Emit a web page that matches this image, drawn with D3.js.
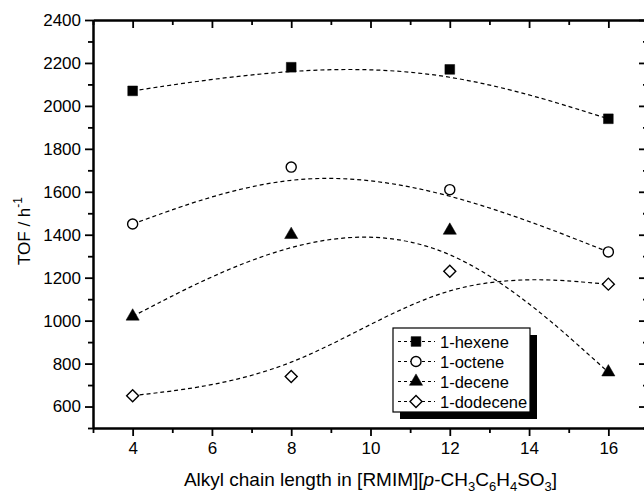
<!DOCTYPE html>
<html>
<head>
<meta charset="utf-8">
<script src="https://cdn.jsdelivr.net/npm/d3@7"></script>
<style>
  html, body { margin: 0; padding: 0; background: #fff; }
  svg text { font-family: "Liberation Sans", Arial, Helvetica, sans-serif; fill: #000; }
</style>
</head>
<body>
<svg id="chart" width="644" height="493"></svg>
<script>
// Alkyl chain length of the ionic liquid cation
const chainLength = [4, 8, 12, 16];

// Turnover frequencies (h^-1) for each olefin
const hexene   = [2070, 2180, 2170, 1940];
const octene   = [1450, 1715, 1610, 1320];
const decene   = [1020, 1400, 1420, 760];
const dodecene = [650, 740, 1230, 1170];

const seriesNames = ["1-hexene", "1-octene", "1-decene", "1-dodecene"];
const seriesValues = [hexene, octene, decene, dodecene];
const seriesSymbols = ["square", "circle", "triangle", "diamond"];

const xTicks = [4, 6, 8, 10, 12, 14, 16];
const yTicks = [600, 800, 1000, 1200, 1400, 1600, 1800, 2000, 2200, 2400];

const svg = d3.select("#chart");
const plotL = 93, plotR = 648, plotT = 20, plotB = 428;

const x = d3.scaleLinear().domain([3, 17]).range([plotL, plotR]);
const y = d3.scaleLinear().domain([500, 2400]).range([plotB, plotT]);

const xMinor = d3.range(3, 18, 1).filter(v => !xTicks.includes(v));
const yMinor = d3.range(500, 2401, 100).filter(v => !yTicks.includes(v));

// Smoothed trend curves (B-spline through the data)
const line = d3.line()
  .x((d, i) => x(chainLength[i]))
  .y(d => y(d))
  .curve(d3.curveBasis);

const curves = svg.append("g");
seriesValues.forEach(vals => {
  curves.append("path")
    .attr("d", line(vals))
    .attr("fill", "none")
    .attr("stroke", "#000")
    .attr("stroke-width", 1.2)
    .attr("stroke-dasharray", "4,3");
});

// Frame with axes
function styleAxis(g) {
  g.select(".domain").attr("stroke-width", 2).attr("stroke", "#000");
  g.selectAll(".tick line").attr("stroke-width", 1.8).attr("stroke", "#000");
  g.selectAll("text").attr("font-size", 17);
}

// bottom: major labeled, ticks outward
svg.append("g").attr("transform", `translate(0,${plotB})`)
  .call(d3.axisBottom(x).tickValues(xTicks).tickSize(8).tickSizeOuter(0).tickPadding(6).tickFormat(d3.format("d")))
  .call(styleAxis);
svg.append("g").attr("transform", `translate(0,${plotB})`)
  .call(d3.axisBottom(x).tickValues(xMinor).tickSize(5).tickSizeOuter(0).tickFormat(""))
  .call(styleAxis);

// left: labeled, outward
svg.append("g").attr("transform", `translate(${plotL},0)`)
  .call(d3.axisLeft(y).tickValues(yTicks).tickSize(8).tickSizeOuter(0).tickPadding(4).tickFormat(d3.format("d")))
  .call(styleAxis);
svg.append("g").attr("transform", `translate(${plotL},0)`)
  .call(d3.axisLeft(y).tickValues(yMinor).tickSize(5).tickSizeOuter(0).tickFormat(""))
  .call(styleAxis);

// top: ticks pointing inward
svg.append("g").attr("transform", `translate(0,${plotT})`)
  .call(d3.axisTop(x).tickValues(xTicks).tickSize(-8).tickSizeOuter(0).tickFormat(""))
  .call(styleAxis);
svg.append("g").attr("transform", `translate(0,${plotT})`)
  .call(d3.axisTop(x).tickValues(xMinor).tickSize(-5).tickSizeOuter(0).tickFormat(""))
  .call(styleAxis);

// right: ticks pointing inward
svg.append("g").attr("transform", `translate(${plotR},0)`)
  .call(d3.axisRight(y).tickValues(yTicks).tickSize(-9).tickSizeOuter(0).tickFormat(""))
  .call(styleAxis);
svg.append("g").attr("transform", `translate(${plotR},0)`)
  .call(d3.axisRight(y).tickValues(yMinor).tickSize(-5).tickSizeOuter(0).tickFormat(""))
  .call(styleAxis);

// Markers
const symbolType = {
  square: d3.symbolSquare,
  circle: d3.symbolCircle,
  triangle: d3.symbolTriangle
};
const symbolSize = { square: 95, circle: 80, triangle: 75, diamond: 72 };
const filled = { square: true, circle: false, triangle: true, diamond: false };

function drawSymbol(g, kind, cx, cy) {
  if (kind === "diamond") {
    const p = d3.symbol().type(d3.symbolSquare).size(symbolSize[kind])();
    return g.append("path").attr("d", p)
      .attr("transform", `translate(${cx},${cy}) rotate(45)`)
      .attr("fill", "#fff").attr("stroke", "#000").attr("stroke-width", 1.4);
  }
  const p = d3.symbol().type(symbolType[kind]).size(symbolSize[kind])();
  return g.append("path").attr("d", p)
    .attr("transform", `translate(${cx},${cy})`)
    .attr("fill", filled[kind] ? "#000" : "#fff")
    .attr("stroke", "#000").attr("stroke-width", filled[kind] ? 0.5 : 1.4);
}

const marks = svg.append("g");
seriesValues.forEach((vals, s) => {
  vals.forEach((v, i) => drawSymbol(marks, seriesSymbols[s], x(chainLength[i]), y(v)));
});

// Legend with drop shadow
const lg = svg.append("g").attr("transform", "translate(393,328)");
const lw = 137, lh = 84;
lg.append("rect").attr("x", 7).attr("y", 7).attr("width", lw).attr("height", lh).attr("fill", "#000");
lg.append("rect").attr("x", 0).attr("y", 0).attr("width", lw).attr("height", lh)
  .attr("fill", "#fff").attr("stroke", "#000").attr("stroke-width", 1.2);
seriesNames.forEach((name, i) => {
  const ry = 13.5 + i * 20;
  lg.append("line").attr("x1", 5).attr("x2", 42).attr("y1", ry).attr("y2", ry)
    .attr("stroke", "#000").attr("stroke-width", 1.1).attr("stroke-dasharray", "3,3");
  drawSymbol(lg, seriesSymbols[i], 23, ry);
  lg.append("text").attr("x", 47).attr("y", ry + 6).attr("font-size", 16.5).text(name);
});

// Axis titles
const xt = svg.append("text").attr("x", (plotL + plotR) / 2).attr("y", 486)
  .attr("text-anchor", "middle").attr("font-size", 19);
xt.append("tspan").text("Alkyl chain length in [RMIM][");
xt.append("tspan").attr("font-style", "italic").text("p");
xt.append("tspan").text("-CH");
xt.append("tspan").attr("font-size", 13).attr("dy", 5).text("3");
xt.append("tspan").attr("dy", -5).text("C");
xt.append("tspan").attr("font-size", 13).attr("dy", 5).text("6");
xt.append("tspan").attr("dy", -5).text("H");
xt.append("tspan").attr("font-size", 13).attr("dy", 5).text("4");
xt.append("tspan").attr("dy", -5).text("SO");
xt.append("tspan").attr("font-size", 13).attr("dy", 5).text("3");
xt.append("tspan").attr("dy", -5).text("]");

const yt = svg.append("text")
  .attr("transform", "translate(30,231) rotate(-90)")
  .attr("text-anchor", "middle").attr("font-size", 17);
yt.append("tspan").text("TOF / h");
yt.append("tspan").attr("font-size", 12).attr("dy", -8).text("-1");
</script>
</body>
</html>
